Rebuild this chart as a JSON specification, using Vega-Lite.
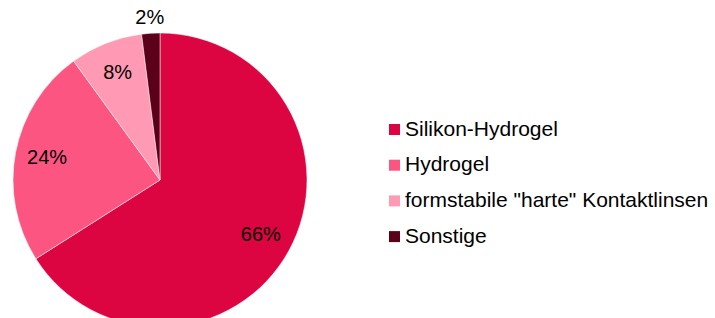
{
  "$schema": "https://vega.github.io/schema/vega-lite/v6.json",
  "width": 320,
  "height": 360,
  "padding": 0,
  "background": "white",
  "config": {"view": {"stroke": null}, "font": "Liberation Sans"},
  "data": {
    "values": [
      {"cat": "Silikon-Hydrogel", "pct": 0.66, "rank": 1},
      {"cat": "Hydrogel", "pct": 0.24, "rank": 2},
      {"cat": "formstabile \"harte\" Kontaktlinsen", "pct": 0.08, "rank": 3},
      {"cat": "Sonstige", "pct": 0.02, "rank": 4}
    ]
  },
  "encoding": {
    "theta": {"field": "pct", "type": "quantitative", "stack": true},
    "order": {"field": "rank", "type": "quantitative"}
  },
  "layer": [
    {
      "mark": {"type": "arc", "outerRadius": 147, "stroke": "white", "strokeWidth": 0.5},
      "encoding": {
        "color": {
          "field": "cat",
          "type": "nominal",
          "scale": {
            "domain": ["Silikon-Hydrogel", "Hydrogel", "formstabile \"harte\" Kontaktlinsen", "Sonstige"],
            "range": ["#dc0541", "#fd5582", "#ff99b4", "#5c0019"]
          },
          "legend": {
            "title": null,
            "orient": "none",
            "legendX": 384,
            "legendY": 119,
            "padding": 0,
            "symbolType": "square",
            "symbolSize": 121,
            "symbolStrokeWidth": 0,
            "labelFontSize": 21,
            "labelFont": "Liberation Sans",
            "labelColor": "black",
            "labelOffset": 0,
            "labelLimit": 400,
            "rowPadding": 13.7
          }
        }
      }
    },
    {
      "mark": {"type": "text", "radius": 115, "fontSize": 20, "font": "Liberation Sans", "color": "black"},
      "encoding": {
        "text": {"condition": {"test": "datum.cat !== 'Sonstige'", "field": "pct", "format": ".0%"}, "value": ""}
      }
    },
    {
      "mark": {"type": "text", "radius": 162, "fontSize": 20, "font": "Liberation Sans", "color": "black"},
      "encoding": {
        "text": {"condition": {"test": "datum.cat === 'Sonstige'", "field": "pct", "format": ".0%"}, "value": ""}
      }
    }
  ]
}
